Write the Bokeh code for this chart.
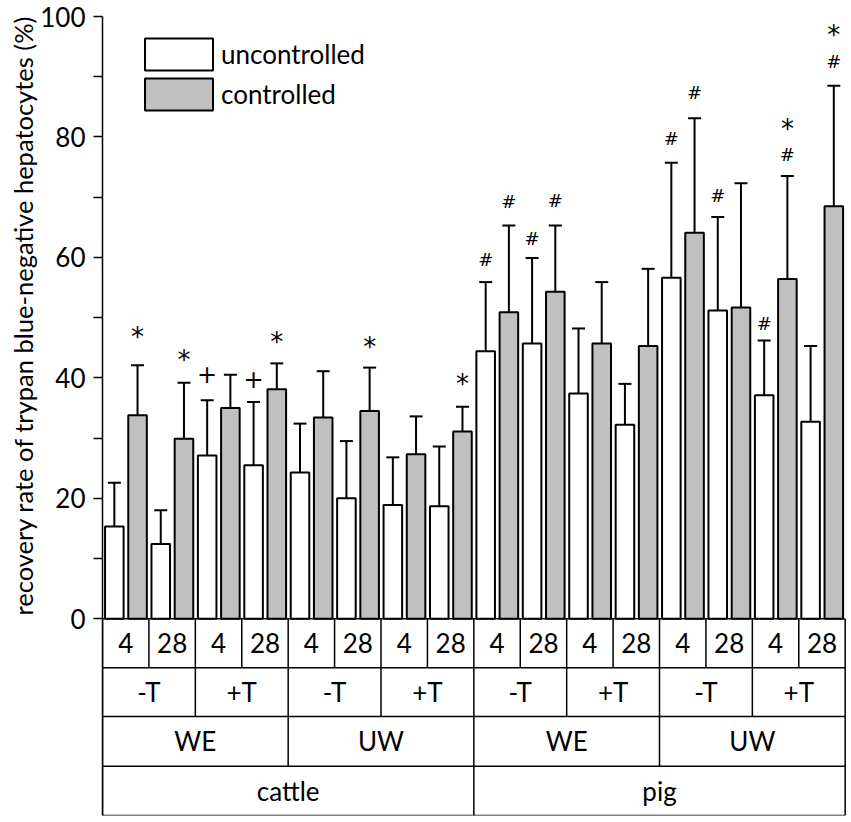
from bokeh.plotting import figure
from bokeh.models import (ColumnDataSource, Whisker, TeeHead, FixedTicker, Legend,
                          LegendItem, Title, Range1d)
from bokeh.core.properties import value
from bokeh.embed import file_html
from bokeh.resources import INLINE

# ---------------- data ----------------
time_labels = ["4", "28"] * 8
temp_labels = ["-T", "+T"] * 4
solution_labels = ["WE", "UW"] * 2
species_labels = ["cattle", "pig"]

uncontrolled = [15.3, 12.4, 27.1, 25.5, 24.3, 20.0, 18.9, 18.7,
                44.4, 45.7, 37.4, 32.2, 56.6, 51.2, 37.1, 32.7]
unc_upper = [22.6, 18.0, 36.3, 36.0, 32.4, 29.5, 26.8, 28.6,
             55.9, 59.9, 48.2, 39.0, 75.7, 66.7, 46.2, 45.3]
unc_lower = [7.9, 6.7, 18.0, 14.9, 16.2, 10.3, 11.0, 9.0,
             33.1, 31.6, 26.4, 25.7, 37.1, 35.8, 28.2, 19.8]
controlled = [33.8, 29.9, 35.0, 38.1, 33.4, 34.5, 27.3, 31.1,
              50.9, 54.3, 45.7, 45.3, 64.1, 51.7, 56.4, 68.5]
ctl_upper = [42.1, 39.2, 40.5, 42.4, 41.1, 41.7, 33.6, 35.2,
             65.3, 65.3, 55.9, 58.1, 83.1, 72.3, 73.5, 88.5]
ctl_lower = [25.5, 20.7, 29.2, 33.8, 25.9, 27.5, 20.9, 27.3,
             36.5, 43.3, 35.4, 32.2, 44.6, 31.1, 39.3, 48.5]

# significance marks: group index, series ("u"/"c"), y position, symbol
mark_group = [0, 1, 2, 3, 3, 5, 7, 8, 8, 9, 9, 12, 12, 13, 14, 14, 14, 15, 15]
mark_series = ["c", "c", "u", "u", "c", "c", "c", "u", "c", "u", "c",
               "u", "c", "u", "u", "c", "c", "c", "c"]
mark_y = [46.8, 42.9, 40.6, 39.8, 45.9, 45.1, 39.0, 59.7, 69.2, 63.2, 69.4,
          79.7, 87.3, 70.2, 49.1, 77.1, 81.4, 92.5, 96.9]
mark_text = ["*", "*", "+", "+", "*", "*", "*", "#", "#", "#", "#",
             "#", "#", "#", "#", "#", "*", "#", "*"]

FONT = "Lato"
n = len(uncontrolled)
OFF_U, OFF_C, BAR_W = 0.255, 0.755, 0.40

# table row boundaries (data units below zero)
rows = [0.0, -8.14, -16.23, -24.48, -32.67]

p = figure(width=849, height=819, output_backend="svg", toolbar_location=None,
           x_range=Range1d(0, 16.05), y_range=Range1d(rows[-1], 100),
           min_border_left=102, min_border_right=2, min_border_top=16,
           min_border_bottom=4)
p.frame_width = 745
p.frame_height = 799
p.outline_line_color = None
p.xgrid.visible = False
p.ygrid.visible = False
p.xaxis.visible = False
p.background_fill_color = "white"

ax = p.yaxis[0]
ax.ticker = FixedTicker(ticks=[0, 20, 40, 60, 80, 100], minor_ticks=[10, 30, 50, 70, 90])
ax.axis_line_color = "black"
ax.axis_line_width = 1.5
ax.major_tick_line_color = "black"
ax.major_tick_line_width = 1.5
ax.minor_tick_line_color = "black"
ax.minor_tick_line_width = 1.5
ax.major_tick_in = 0
ax.major_tick_out = 9
ax.minor_tick_in = 0
ax.minor_tick_out = 9
ax.major_label_text_font = FONT
ax.major_label_text_font_size = "26px"
ax.major_label_text_color = "black"
ax.major_label_standoff = 8

src = ColumnDataSource(dict(
    xu=[i + OFF_U for i in range(n)], xc=[i + OFF_C for i in range(n)],
    u=uncontrolled, uu=unc_upper, ul=unc_lower,
    c=controlled, cu=ctl_upper, cl=ctl_lower))

r_u = p.vbar(x="xu", top="u", bottom=0, width=BAR_W, source=src,
             fill_color="white", line_color="black", line_width=2)
r_c = p.vbar(x="xc", top="c", bottom=0, width=BAR_W, source=src,
             fill_color="#c0c0c0", line_color="black", line_width=2)

for base, up, lo in (("xu", "uu", "ul"), ("xc", "cu", "cl")):
    w = Whisker(source=src, base=base, upper=up, lower=lo, dimension="height",
                line_color="black", line_width=2,
                upper_head=TeeHead(size=13, line_color="black", line_width=2),
                lower_head=TeeHead(size=13, line_color="black", line_width=2))
    p.add_layout(w)

# significance marks
mx = [g + (OFF_U if s == "u" else OFF_C) for g, s in zip(mark_group, mark_series)]
msrc = ColumnDataSource(dict(x=mx, y=mark_y, t=mark_text,
                             fs=["18px" if t == "#" else ("26px" if t == "*" else "24px")
                                 for t in mark_text]))
p.text(x="x", y="y", text="t", source=msrc, text_align="center",
       text_baseline="middle", text_font=value("DejaVu Sans"),
       text_font_size="fs", text_color="black")

# ---------------- category table ----------------
x0s, x1s, y0s, y1s = [], [], [], []
for y in rows:
    x0s.append(0); x1s.append(16); y0s.append(y); y1s.append(y)
levels = [time_labels, temp_labels, solution_labels, species_labels]
for lvl, labels in enumerate(levels):
    span = 16 // len(labels)
    for k in range(len(labels) + 1):
        x0s.append(k * span); x1s.append(k * span)
        y0s.append(rows[lvl]); y1s.append(rows[lvl + 1])
p.segment(x0=x0s, x1=x1s, y0=y0s, y1=y1s, line_color="black", line_width=1.5)

tx, ty, tt = [], [], []
for lvl, labels in enumerate(levels):
    span = 16 // len(labels)
    for k, lab in enumerate(labels):
        tx.append(k * span + span / 2)
        ty.append((rows[lvl] + rows[lvl + 1]) / 2)
        tt.append(lab)
p.text(x=tx, y=ty, text=tt, text_align="center", text_baseline="middle",
       text_font=value(FONT), text_font_size="26px", text_color="black")

# y axis label, placed along the 0-100 part of the axis
ylab = Title(text="recovery rate of trypan blue-negative hepatocytes (%)",
             align="left", offset=200, text_font=FONT, text_font_size="25.5px",
             text_font_style="normal", text_color="black", standoff=0)
p.add_layout(ylab, "left")

legend = Legend(items=[LegendItem(label="uncontrolled", renderers=[r_u]),
                       LegendItem(label="controlled", renderers=[r_c])],
                location=(34, 701), glyph_width=85, glyph_height=40,
                label_text_font=FONT, label_text_font_size="26px",
                label_text_color="black",
                label_standoff=0, spacing=0, padding=0, margin=0,
                border_line_color=None, background_fill_alpha=0)
p.add_layout(legend)

open("out.html", "w").write(file_html(p, INLINE))
